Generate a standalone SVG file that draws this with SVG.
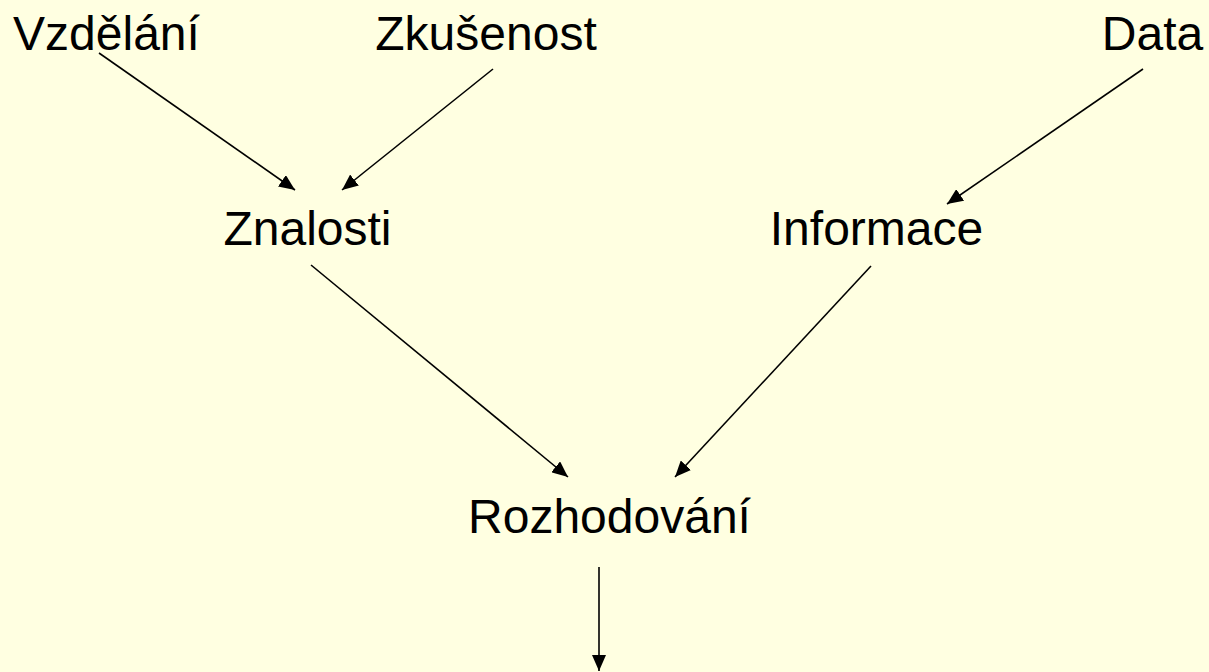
<svg xmlns="http://www.w3.org/2000/svg" width="1209" height="672" viewBox="0 0 1209 672">
<style>
.lbl{font-family:"Liberation Sans",Arial,sans-serif;font-size:48px;fill:#000;text-anchor:middle}
.conn{stroke:#000;stroke-width:1.6;fill:none;marker-end:url(#ah)}
</style>
<defs>
<marker id="ah" viewBox="0 0 16 14" refX="16" refY="7" markerWidth="16" markerHeight="14" markerUnits="userSpaceOnUse" orient="auto">
<path d="M0,0 L16,7 L0,14 Z" fill="#000"/>
</marker>
</defs>
<rect width="1209" height="672" fill="#FFFFE1"/>
<g id="connectors">
<line class="conn" x1="99" y1="53" x2="295" y2="190"/>
<line class="conn" x1="493" y1="69" x2="342" y2="190"/>
<line class="conn" x1="1143" y1="69" x2="947" y2="204"/>
<line class="conn" x1="311" y1="265" x2="568" y2="477"/>
<line class="conn" x1="871" y1="266" x2="675" y2="477"/>
<line class="conn" x1="599" y1="567" x2="599" y2="671"/>
</g>
<g id="n-vzdelani"><text class="lbl" x="106.5" y="50">Vzdělání</text></g>
<g id="n-zkusenost"><text class="lbl" x="486" y="50">Zkušenost</text></g>
<g id="n-data"><text class="lbl" x="1152.5" y="50">Data</text></g>
<g id="n-znalosti"><text class="lbl" x="307.5" y="245">Znalosti</text></g>
<g id="n-informace"><text class="lbl" x="876.5" y="245">Informace</text></g>
<g id="n-rozhodovani"><text class="lbl" x="609.5" y="533">Rozhodování</text></g>
</svg>
